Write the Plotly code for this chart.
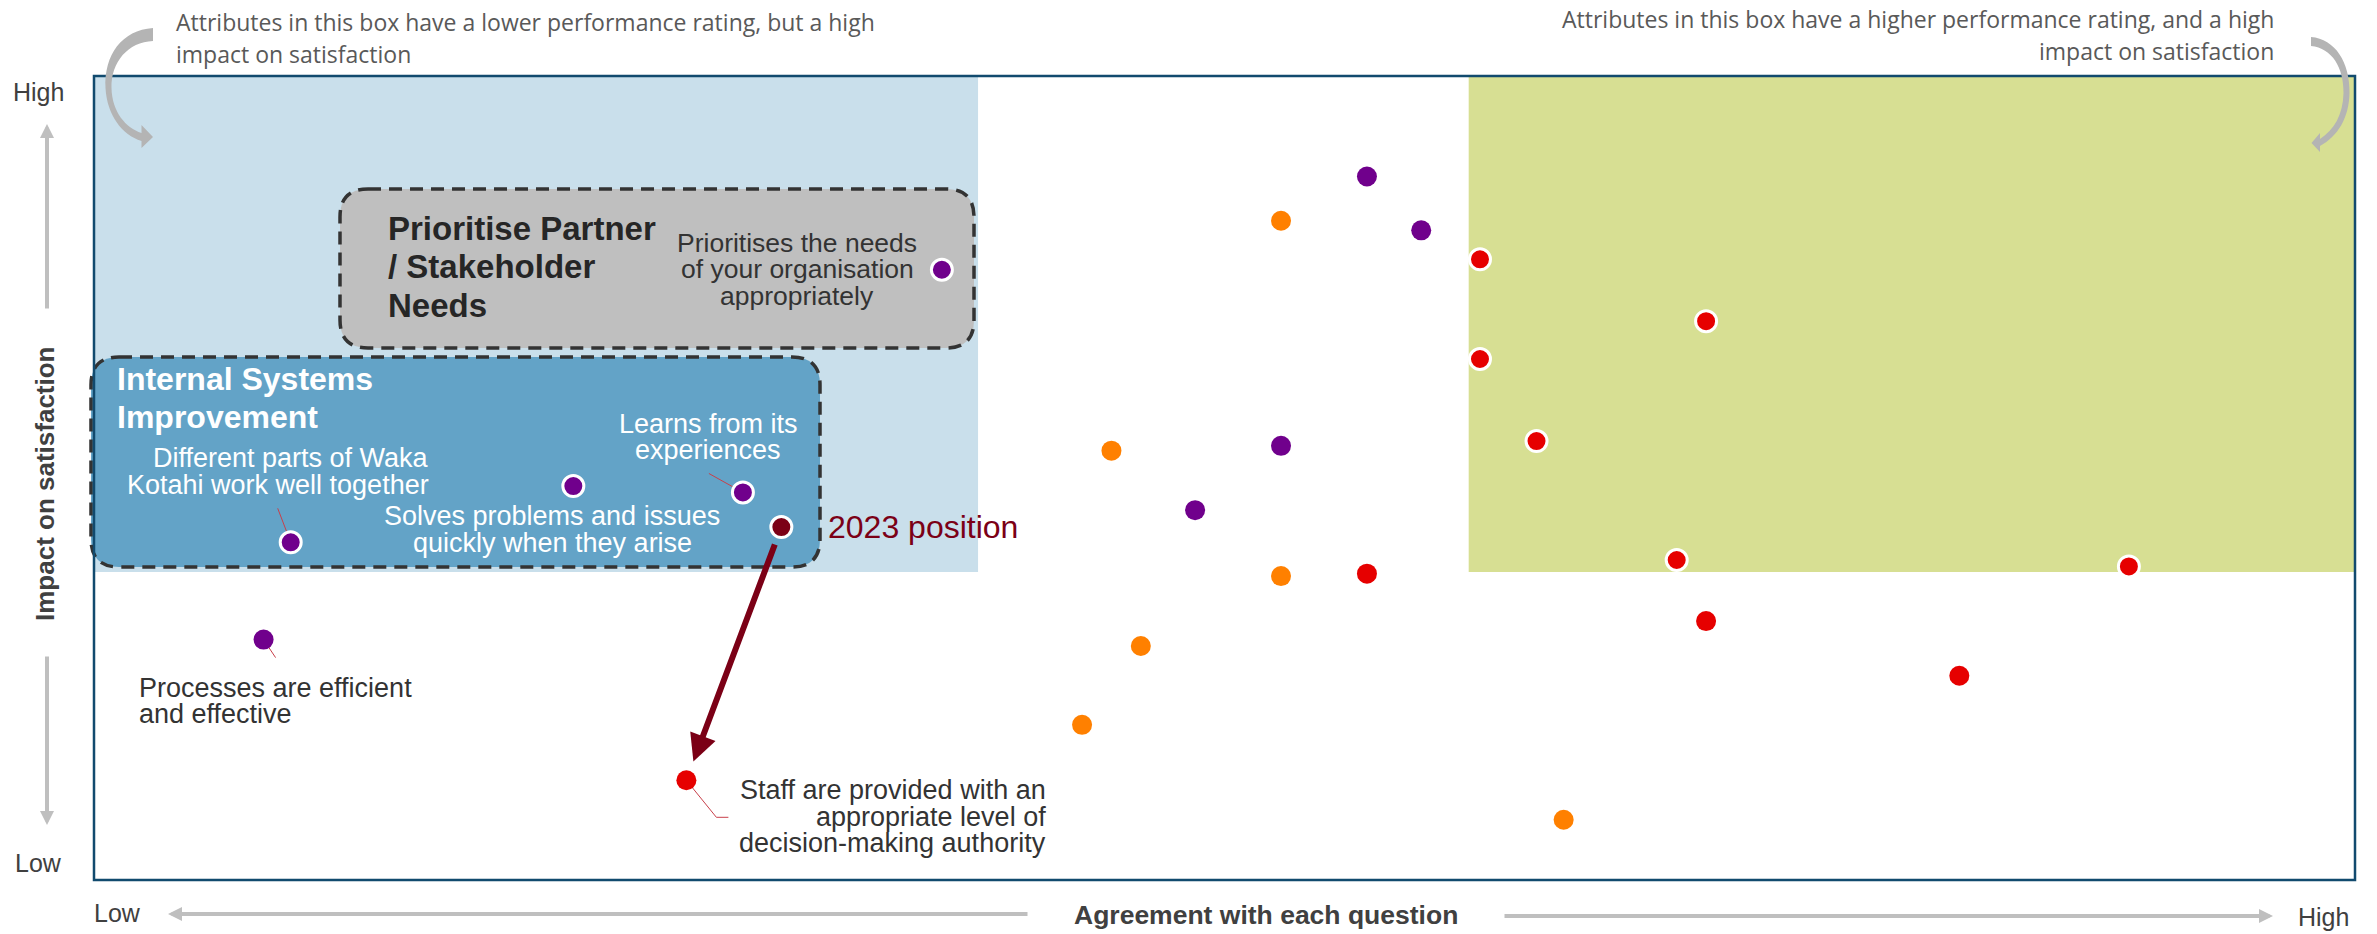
import plotly.graph_objects as go

# ---------------- data (x = agreement, y = impact; 0-100 scale) ----------------
purple_x = [56.3, 58.7, 37.5, 52.5, 48.7, 21.2, 28.7, 8.7, 7.5]
purple_y = [87.5, 80.8, 75.9, 54.0, 46.0, 49.0, 48.2, 42.0, 29.9]
purple_hl = [0, 0, 1, 0, 0, 1, 1, 1, 0]

orange_x = [52.5, 45.0, 52.5, 46.3, 43.7, 65.0]
orange_y = [82.0, 53.4, 37.8, 29.1, 19.3, 7.5]
orange_hl = [0, 0, 0, 0, 0, 0]

red_x = [61.3, 71.3, 61.3, 63.8, 70.0, 90.0, 56.3, 71.3, 82.5, 26.2]
red_y = [77.2, 69.5, 64.8, 54.6, 39.8, 39.0, 38.1, 32.2, 25.4, 12.4]
red_hl = [1, 1, 1, 1, 1, 1, 0, 0, 0, 0]

prev_x = [30.4]   # 2023 position
prev_y = [43.9]
prev_hl = [1]

# quadrant thresholds
low_perf_x = 39.1
high_perf_x = 60.8
high_impact_y = 38.3

# ---------------- geometry helpers (pixel layout) ----------------
W, H = 2377, 934
L, R, T, B = 94, 2355, 76, 880
XR = (0, 100)
YR = (0, 100)


def fx(p):
    return (p - L) / (R - L)


def fy(p):
    return (B - p) / (B - T)


def dpx(x):  # data x -> paper
    return (x - XR[0]) / (XR[1] - XR[0])


def dpy(y):  # data y -> paper
    return (y - YR[0]) / (YR[1] - YR[0])


PURPLE = "#70008C"
ORANGE = "#FF8000"
RED = "#E60000"
MAROON = "#7B0016"
TXT = "#333333"
GREYTXT = "#595959"
ARROWGREY = "#BFBFBF"
FONT = "Liberation Sans, Arial, sans-serif"

fig = go.Figure()

shapes = []
# quadrant fills
shapes.append(dict(type="rect", xref="paper", yref="paper", x0=dpx(0), x1=dpx(low_perf_x),
                   y0=dpy(high_impact_y), y1=dpy(100),
                   fillcolor="#C9DFEB", line=dict(width=0), layer="below"))
shapes.append(dict(type="rect", xref="paper", yref="paper", x0=dpx(high_perf_x), x1=dpx(100),
                   y0=dpy(high_impact_y), y1=dpy(100),
                   fillcolor="#D7DF93", line=dict(width=0), layer="below"))


def rrect(x0, y0, x1, y1, r):
    pts = [
        ("M", [(x0 + r, y0)]), ("L", [(x1 - r, y0)]), ("Q", [(x1, y0), (x1, y0 + r)]),
        ("L", [(x1, y1 - r)]), ("Q", [(x1, y1), (x1 - r, y1)]), ("L", [(x0 + r, y1)]),
        ("Q", [(x0, y1), (x0, y1 - r)]), ("L", [(x0, y0 + r)]), ("Q", [(x0, y0), (x0 + r, y0)]),
    ]
    s = ""
    for c, ps in pts:
        s += c + " " + " ".join(f"{fx(a):.5f},{fy(b):.5f}" for a, b in ps) + " "
    return s + "Z"


def pxpath(cmds):
    s = ""
    for c, ps in cmds:
        s += c + " " + " ".join(f"{fx(a):.5f},{fy(b):.5f}" for a, b in ps) + " "
    return s + "Z"


# rounded dashed group boxes
shapes.append(dict(type="path", xref="paper", yref="paper", path=rrect(340, 189, 974, 348, 28),
                   fillcolor="#BFBFBF", line=dict(color="#333333", width=3.5, dash="13px,8px"), layer="below"))
shapes.append(dict(type="path", xref="paper", yref="paper", path=rrect(91, 357, 820, 567, 28),
                   fillcolor="#63A3C7", line=dict(color="#333333", width=3.5, dash="13px,8px"), layer="below"))

# leader lines (pixel offsets from the labelled points)
LEAD = "#C8404A"


def leader(x, y, offs):
    px0, py0 = dpx(x), dpy(y)
    p = f"M {px0:.5f},{py0:.5f}"
    for ox, oy in offs:
        p += f" L {px0 + ox / (R - L):.5f},{py0 - oy / (B - T):.5f}"
    shapes.append(dict(type="path", xref="paper", yref="paper", path=p,
                       line=dict(color=LEAD, width=1), layer="below"))


leader(purple_x[6], purple_y[6], [(-34, -19)])
leader(purple_x[7], purple_y[7], [(-13, -34)])
leader(purple_x[8], purple_y[8], [(12, 18)])
leader(red_x[9], red_y[9], [(30, 37), (42, 37)])

# plot frame
shapes.append(dict(type="rect", xref="paper", yref="paper", x0=0, x1=1, y0=0, y1=1,
                   line=dict(color="#114A6E", width=2.5), layer="above"))

# curved grey callout arrows
left_curve = [
    ("M", [(153, 28)]), ("C", [(122, 30), (104, 55), (105.5, 88)]),
    ("C", [(107, 115), (122, 135), (141.5, 141)]), ("L", [(141.5, 148)]), ("L", [(153, 137)]),
    ("L", [(141.5, 125)]), ("L", [(141.5, 133)]), ("C", [(126, 128), (112, 112), (111.5, 88)]),
    ("C", [(111, 62), (128, 42), (153, 41)]),
]
right_curve = [
    ("M", [(2311, 37)]), ("C", [(2335, 39), (2350, 62), (2349.5, 93)]),
    ("C", [(2349, 118), (2338, 136), (2320, 146)]), ("L", [(2320, 152)]), ("L", [(2311.5, 143)]),
    ("L", [(2320, 133)]), ("L", [(2320, 139)]), ("C", [(2334, 130), (2343, 115), (2343.5, 93)]),
    ("C", [(2344, 68), (2332, 48), (2311, 46)]),
]
for cv in (left_curve, right_curve):
    shapes.append(dict(type="path", xref="paper", yref="paper", path=pxpath(cv),
                       fillcolor="#B4B4B4", line=dict(width=0), layer="above"))


# ---------------- markers ----------------
def add_points(xs, ys, color, hl):
    fig.add_trace(go.Scatter(
        x=xs, y=ys, mode="markers", hoverinfo="skip", showlegend=False,
        marker=dict(size=[21 if h else 20 for h in hl], color=color, opacity=1,
                    line=dict(color="white", width=[3 if h else 0 for h in hl]))))


add_points(orange_x, orange_y, ORANGE, orange_hl)
add_points(purple_x, purple_y, PURPLE, purple_hl)
add_points(red_x, red_y, RED, red_hl)
add_points(prev_x, prev_y, MAROON, prev_hl)

# movement arrow from 2023 position
fig.add_annotation(x=red_x[9], y=red_y[9], ax=prev_x[0], ay=prev_y[0], xref="x", yref="y",
                   axref="x", ayref="y", text="", showarrow=True, arrowhead=2, arrowsize=0.9,
                   arrowwidth=6, arrowcolor=MAROON, standoff=20, startstandoff=17)


# ---------------- text ----------------
def txt(lines, x, ys, anchor, size, color, bold=False, family=FONT, angle=0):
    for line, y in zip(lines, ys):
        fig.add_annotation(x=fx(x), y=fy(y), xref="paper", yref="paper",
                           text=f"<b>{line}</b>" if bold else line, showarrow=False,
                           xanchor=anchor, yanchor="middle", textangle=angle,
                           font=dict(size=size, color=color, family=family))


CALLFONT = "Open Sans, sans-serif"
txt(["Attributes in this box have a lower performance rating, but a high", "impact on satisfaction"],
    174, [22, 53.6], "left", 23, GREYTXT, family=CALLFONT)
txt(["Attributes in this box have a higher performance rating, and a high", "impact on satisfaction"],
    2276, [19, 50.5], "right", 23, GREYTXT, family=CALLFONT)

txt(["Prioritise Partner", "/ Stakeholder", "Needs"], 386, [228.5, 266.7, 305], "left", 33, "#262626", bold=True)
txt(["Prioritises the needs", "of your organisation", "appropriately"], 797, [243, 269, 296], "center", 26.5, TXT)
txt(["Internal Systems", "Improvement"], 115, [379, 417], "left", 32, "white", bold=True)
txt(["Different parts of Waka", "Kotahi work well together"], 431, [458, 485], "right", 27, "white")
txt(["Learns from its", "experiences"], 708, [423.6, 450.4], "center", 27, "white")
txt(["Solves problems and issues", "quickly when they arise"], 552, [516, 542.7], "center", 27, "white")
txt(["Processes are efficient", "and effective"], 137, [688, 714], "left", 27, TXT)
txt(["Staff are provided with an", "appropriate level of", "decision-making authority"], 1048,
    [790, 817, 843], "right", 27, TXT)
txt(["2023 position"], 826, [527], "left", 32, MAROON)

# axis end labels
txt(["High"], 38, [92], "center", 25, "#404040")
txt(["Low"], 38, [863], "center", 25, "#404040")
txt(["Low"], 117, [913], "center", 25, "#404040")
txt(["High"], 2323, [917], "center", 25, "#404040")
txt(["Agreement with each question"], 1266, [915], "center", 26.5, "#404040", bold=True)
txt(["Impact on satisfaction"], 45, [484], "center", 26, "#404040", bold=True, angle=-90)


# grey axis arrows (tip in px, tail in px)
def garrow(tx, ty, sx, sy):
    fig.add_annotation(x=fx(tx), y=fy(ty), xref="paper", yref="paper", ax=sx - tx, ay=sy - ty,
                       text="", showarrow=True, arrowhead=2, arrowsize=0.7, arrowwidth=4,
                       arrowcolor=ARROWGREY, standoff=0)


garrow(47, 124, 47, 310)
garrow(47, 825, 47, 655)
garrow(168, 914, 1029, 914)
garrow(2273, 916, 1503, 916)

fig.update_layout(
    width=W, height=H,
    margin=dict(l=L, r=W - R, t=T, b=H - B, pad=0),
    paper_bgcolor="white", plot_bgcolor="rgba(0,0,0,0)",
    xaxis=dict(range=list(XR), visible=False, fixedrange=True),
    yaxis=dict(range=list(YR), visible=False, fixedrange=True),
    shapes=shapes,
    showlegend=False,
)

fig.write_html("out.html")
